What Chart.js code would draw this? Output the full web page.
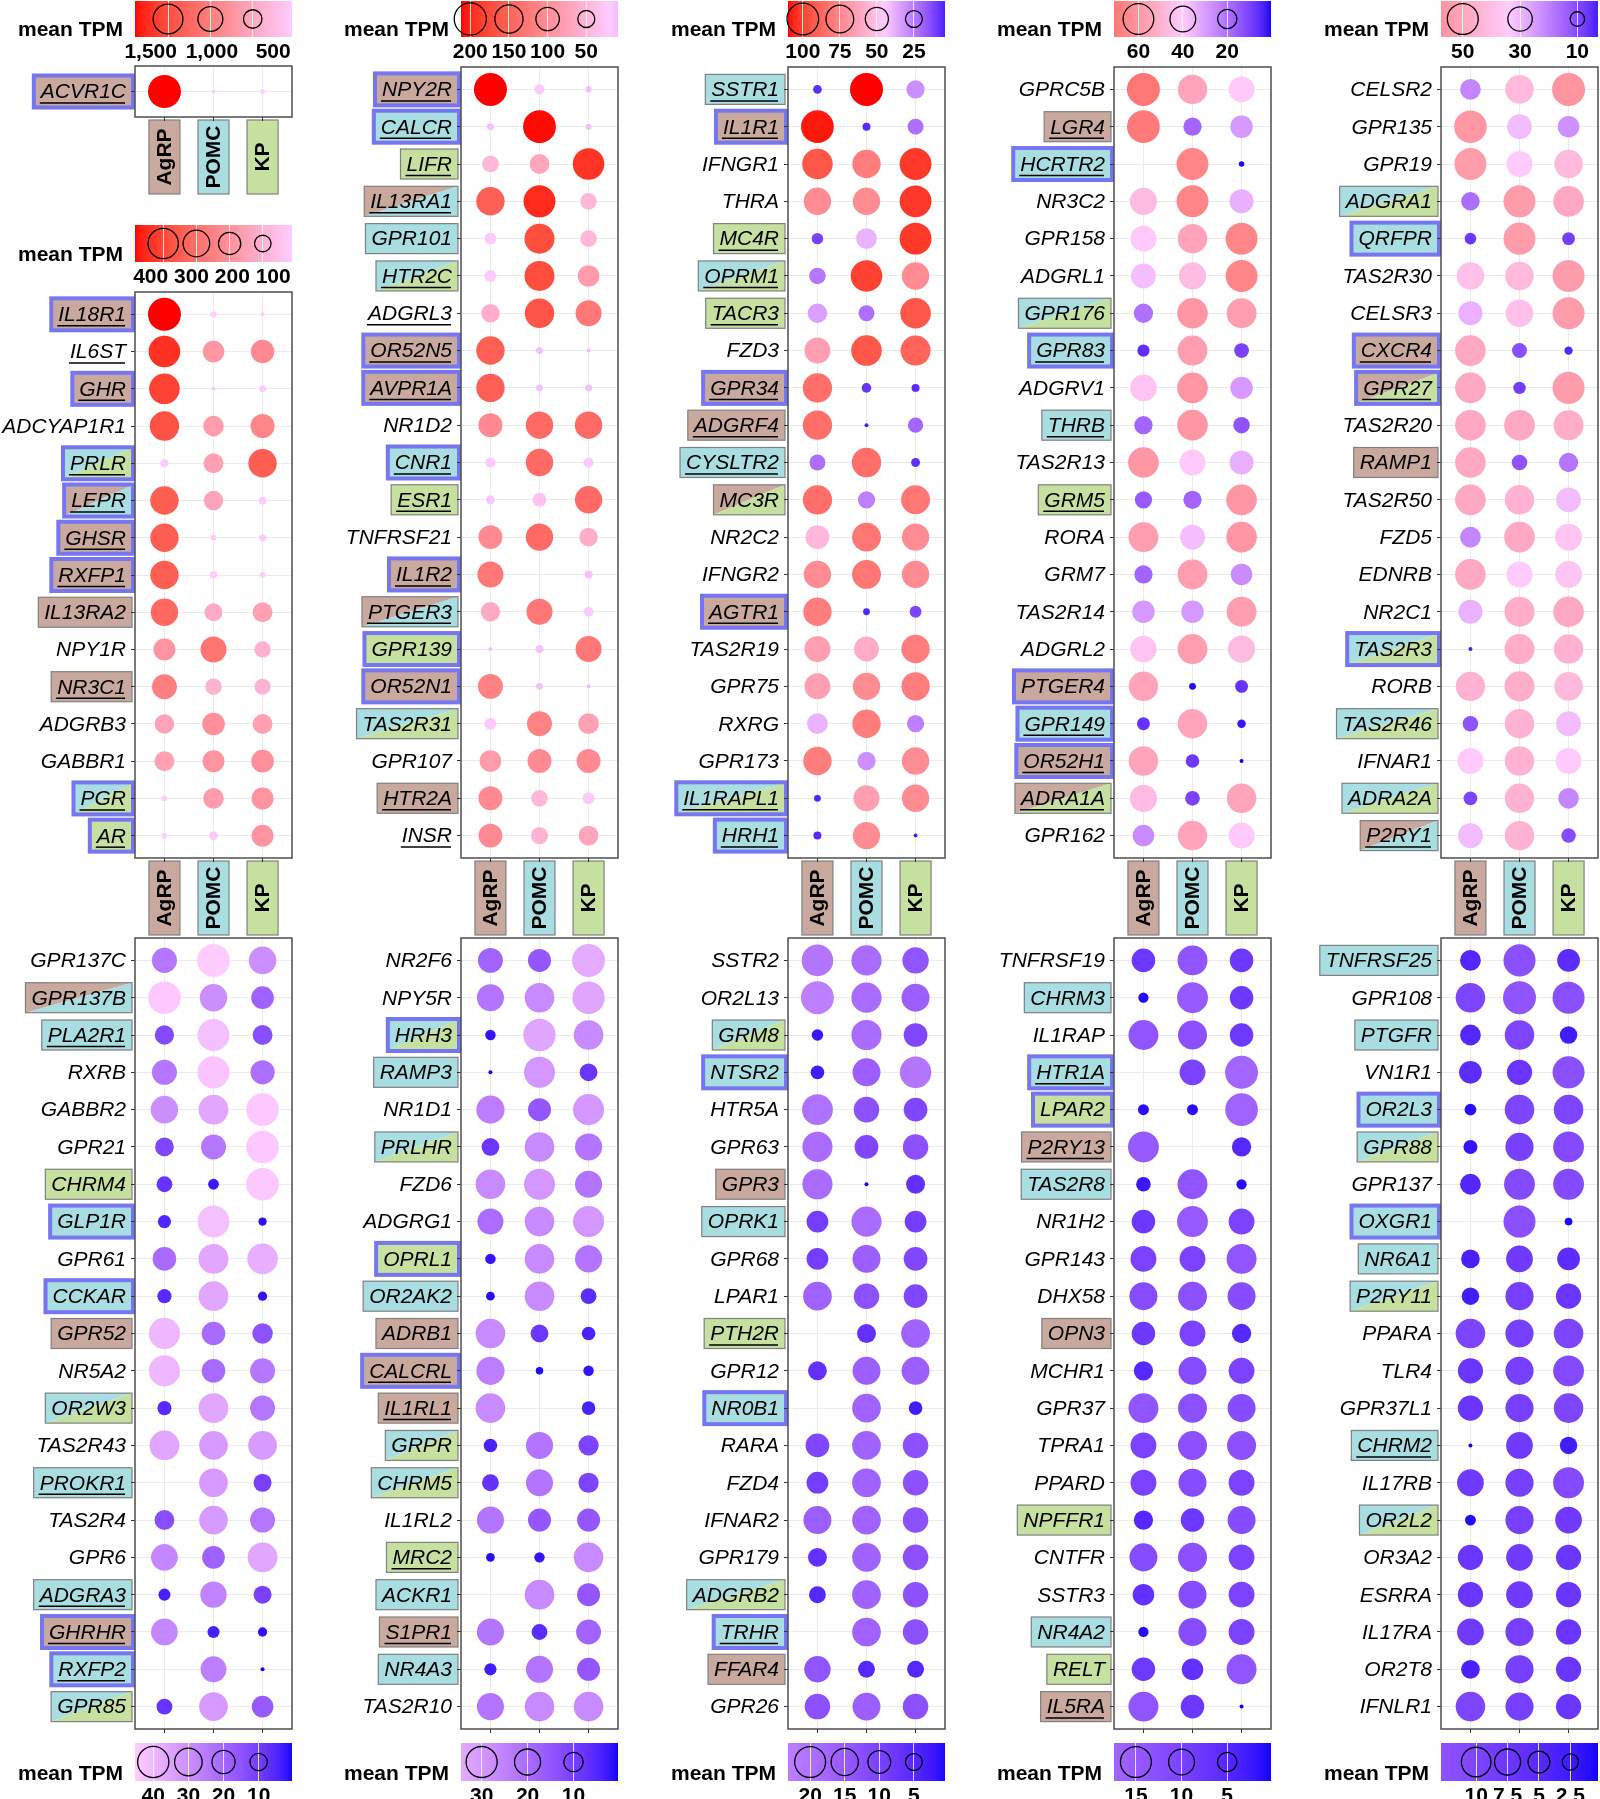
<!DOCTYPE html>
<html>
<head>
<meta charset="utf-8">
<script src="https://cdn.jsdelivr.net/npm/chart.js@4.4.1/dist/chart.umd.min.js"></script>
<style>
  body { margin: 0; background: #fff; width: 1600px; height: 1799px; position: relative; overflow: hidden; }
  canvas { position: absolute; }
</style>
</head>
<body>
<script>
// ---- data (mean TPM per cell type) ----
const cellTypes = ['AgRP', 'POMC', 'KP'];

// tags: A/P/K = highlight colour(s), * = blue frame, _ = underlined
const p0Genes = ['ACVR1C'];
const p0Agrp = [1890];
const p0Pomc = [36];
const p0Kp = [38];
const p0Tags = ['A*_'];
const p0Breaks = [1500, 1000, 500];

const a1Genes = ['IL18R1', 'IL6ST', 'GHR', 'ADCYAP1R1', 'PRLR', 'LEPR', 'GHSR', 'RXFP1', 'IL13RA2', 'NPY1R', 'NR3C1', 'ADGRB3', 'GABBR1', 'PGR', 'AR'];
const a1Agrp = [485, 440, 410, 375, 21, 347, 347, 347, 320, 194, 258, 145, 155, 14, 14];
const a1Pomc = [15, 187, 12, 168, 155, 145, 14, 18, 122, 284, 100, 207, 194, 168, 25];
const a1Kp = [12, 224, 17, 238, 347, 20, 18, 14, 155, 100, 95, 155, 207, 194, 194];
const a1Tags = ['A*_', '_', 'A*_', '', 'PK*_', 'AP*_', 'A*_', 'A*_', 'A', '', 'A_', '', '', 'PK*_', 'K*_'];
const a1Breaks = [400, 300, 200, 100];

const a2Genes = ['NPY2R', 'CALCR', 'LIFR', 'IL13RA1', 'GPR101', 'HTR2C', 'ADGRL3', 'OR52N5', 'AVPR1A', 'NR1D2', 'CNR1', 'ESR1', 'TNFRSF21', 'IL1R2', 'PTGER3', 'GPR139', 'OR52N1', 'TAS2R31', 'GPR107', 'HTR2A', 'INSR'];
const a2Agrp = [212, 11, 48, 153, 24, 24, 60, 153, 153, 105, 18, 15, 105, 126, 66, 9, 115, 24, 84, 105, 105];
const a2Pomc = [18, 210, 70, 198, 172, 172, 165, 11, 11, 141, 141, 33, 141, null, 126, 13, 11, 115, 105, 48, 52];
const a2Kp = [10, 10, 192, 48, 48, 84, 126, 9, 11, 141, 18, 141, 60, 13, 18, 126, 9, 76, 105, 24, 70];
const a2Tags = ['A*_', 'P*_', 'K_', 'AP_', 'P', 'PK_', '_', 'A*_', 'A*_', '', 'P*_', 'K_', '', 'A*_', 'AP_', 'K*', 'A*', 'PK', '', 'A_', '_'];
const a2Breaks = [200, 150, 100, 50];

const a3Genes = ['SSTR1', 'IL1R1', 'IFNGR1', 'THRA', 'MC4R', 'OPRM1', 'TACR3', 'FZD3', 'GPR34', 'ADGRF4', 'CYSLTR2', 'MC3R', 'NR2C2', 'IFNGR2', 'AGTR1', 'TAS2R19', 'GPR75', 'RXRG', 'GPR173', 'IL1RAPL1', 'HRH1'];
const a3Agrp = [6.7, 108, 93, 73, 11, 24, 34, 65, 85, 85, 22, 85, 54, 73, 79, 65, 65, 39, 79, 5, 6];
const a3Pomc = [110, 6, 79, 73, 39, 100, 22, 93, 8, 4, 85, 26, 82, 82, 5, 59, 73, 79, 30, 65, 73];
const a3Kp = [30, 22, 102, 102, 102, 73, 93, 89, 6, 20, 7, 82, 73, 73, 12, 79, 79, 26, 73, 73, 4];
const a3Tags = ['P_', 'A*_', '', '', 'K_', 'PK_', 'K_', '', 'A*_', 'A_', 'P_', 'AK', '', '', 'A*_', '', '', '', '', 'PK*_', 'P*_'];
const a3Breaks = [100, 75, 50, 25];

const a4Genes = ['GPRC5B', 'LGR4', 'HCRTR2', 'NR3C2', 'GPR158', 'ADGRL1', 'GPR176', 'GPR83', 'ADGRV1', 'THRB', 'TAS2R13', 'GRM5', 'RORA', 'GRM7', 'TAS2R14', 'ADGRL2', 'PTGER4', 'GPR149', 'OR52H1', 'ADRA1A', 'GPR162'];
const a4Agrp = [71, 70, null, 46, 41, 37, 20, 6, 43, 17.5, 60, 15, 57, 17.5, 29, 43, 55, 7, 55, 46, 26];
const a4Pomc = [55, 17.5, 66, 66, 55, 46, 60, 57, 60, 60, 41, 17.5, 37, 57, 29, 57, 1, 55, 8, 10, 55];
const a4Kp = [41, 29, 0.5, 34, 66, 66, 57, 10, 29, 13.5, 34, 60, 60, 26, 57, 46, 7, 2, 0.3, 55, 41];
const a4Tags = ['', 'A_', 'P*_', '', '', '', 'PK', 'P*_', '', 'P_', '', 'K_', '', '', '', '', 'A*', 'P*_', 'A*_', 'AK_', ''];
const a4Breaks = [60, 40, 20];

const a5Genes = ['CELSR2', 'GPR135', 'GPR19', 'ADGRA1', 'QRFPR', 'TAS2R30', 'CELSR3', 'CXCR4', 'GPR27', 'TAS2R20', 'RAMP1', 'TAS2R50', 'FZD5', 'EDNRB', 'NR2C1', 'TAS2R3', 'RORB', 'TAS2R46', 'IFNAR1', 'ADRA2A', 'P2RY1'];
const a5Agrp = [21, 56, 54, 16.5, 6.6, 39, 29, 49, 49, 49, 49, 49, 21, 49, 29, 2.8, 45, 11.5, 34.5, 9, 31];
const a5Pomc = [42, 31, 34.5, 54, 54, 42, 39, 10.6, 7.5, 49, 11.5, 45, 49, 34.5, 47, 47, 47, 45, 45, 45, 45];
const a5Kp = [57.6, 23, 42, 49, 7.8, 54, 54, 4, 54, 47, 18, 31, 37, 37, 49, 45, 42, 31, 34.5, 21, 10];
const a5Tags = ['', '', '', 'PK', 'P*', '', '', 'A*_', 'AK*_', '', 'A', '', '', '', '', 'PK*', '', 'PK', '', 'PK', 'AP_'];
const a5Breaks = [50, 30, 10];

const b1Genes = ['GPR137C', 'GPR137B', 'PLA2R1', 'RXRB', 'GABBR2', 'GPR21', 'CHRM4', 'GLP1R', 'GPR61', 'CCKAR', 'GPR52', 'NR5A2', 'OR2W3', 'TAS2R43', 'PROKR1', 'TAS2R4', 'GPR6', 'ADGRA3', 'GHRHR', 'RXFP2', 'GPR85'];
const b1Agrp = [24, 44, 13, 24, 30, 12, 8, 5, 21, 6, 40, 40, 6, 36, null, 14, 28, 4, 28, null, 8];
const b1Pomc = [45.2, 30, 42, 43, 36, 24, 3, 42, 36, 36, 21, 21, 36, 33, 33, 33, 19, 27, 4, 26, 33];
const b1Kp = [30, 19, 14, 22, 44, 44, 44, 1.5, 38, 2, 15, 24, 24, 33, 11, 24, 36, 11, 2, 0.5, 17];
const b1Tags = ['', 'AP', 'P_', '', '', '', 'K', 'P*', '', 'P*', 'A', '', 'PK', '', 'P_', '', '', 'P_', 'A*_', 'P*_', 'PK'];
const b1Breaks = [40, 30, 20, 10];

const b2Genes = ['NR2F6', 'NPY5R', 'HRH3', 'RAMP3', 'NR1D1', 'PRLHR', 'FZD6', 'ADGRG1', 'OPRL1', 'OR2AK2', 'ADRB1', 'CALCRL', 'IL1RL1', 'GRPR', 'CHRM5', 'IL1RL2', 'MRC2', 'ACKR1', 'S1PR1', 'NR4A3', 'TAS2R10'];
const b2Agrp = [18, 22, 2, 0.3, 24, 8, 27, 20, 2, 1.2, 27, 24, 27, 4, 7, 22, 1.2, null, 22, 3, 22];
const b2Pomc = [15, 27, 33, 30, 15, 27, 30, 27, 27, 27, 8, 0.8, null, 22, 22, 15, 2, 27, 6, 22, 27];
const b2Kp = [34.5, 33, 27, 8, 30, 22, 22, 30, 22, 6, 4, 2, 4, 11, 11, 15, 27, 15, 18, 15, 27];
const b2Tags = ['', '', 'PK*', 'P', '', 'PK', '', '', 'K*', 'P', 'A', 'A*_', 'A_', 'PK', 'PK', '', 'K_', 'P', 'A_', 'P', ''];
const b2Breaks = [30, 20, 10];

const b3Genes = ['SSTR2', 'OR2L13', 'GRM8', 'NTSR2', 'HTR5A', 'GPR63', 'GPR3', 'OPRK1', 'GPR68', 'LPAR1', 'PTH2R', 'GPR12', 'NR0B1', 'RARA', 'FZD4', 'IFNAR2', 'GPR179', 'ADGRB2', 'TRHR', 'FFAR4', 'GPR26'];
const b3Agrp = [21, 23.2, 2, 3, 20, 19, 19, 9, 9, 17, null, 6.5, null, 11, 9, 16, 6.5, 5, null, 14, 13];
const b3Pomc = [19, 19, 19, 16, 13, 11, 0.5, 19, 16, 13, 6.5, 16, 17, 17, 17, 17, 17, 17, 17, 5, 16];
const b3Kp = [14, 16, 11, 21, 11, 13, 6.5, 9, 11, 11, 17, 16, 3, 13, 13, 13, 13, 13, 13, 5, 13];
const b3Tags = ['', '', 'PK', 'P*', '', '', 'A', 'P', '', '', 'K_', '', 'P*', '', '', '', '', 'PK', 'P*_', 'A', ''];
const b3Breaks = [20, 15, 10, 5];

const b4Genes = ['TNFRSF19', 'CHRM3', 'IL1RAP', 'HTR1A', 'LPAR2', 'P2RY13', 'TAS2R8', 'NR1H2', 'GPR143', 'DHX58', 'OPN3', 'MCHR1', 'GPR37', 'TPRA1', 'PPARD', 'NPFFR1', 'CNTFR', 'SSTR3', 'NR4A2', 'RELT', 'IL5RA'];
const b4Agrp = [8, 1, 14, null, 1.2, 15, 2.5, 8, 10, 12, 8, 5, 14, 10, 10, 5, 12, 6.5, 1, 8, 14];
const b4Pomc = [14, 15, 13, 10, 1.2, null, 14, 15, 10, 13, 10, 12, 13, 13, 12, 8, 13, 12, 12, 6.5, 8];
const b4Kp = [8, 8, 8, 17.4, 17, 5, 1, 10, 14, 12, 5, 10, 12, 13, 10, 12, 10, 10, 10, 14, 0.2];
const b4Tags = ['', 'P', '', 'P*_', 'K*', 'A_', 'P', '', '', '', 'A', '', '', '', '', 'K', '', '', 'P', 'K', 'A_'];
const b4Breaks = [15, 10, 5];

const b5Genes = ['TNFRSF25', 'GPR108', 'PTGFR', 'VN1R1', 'OR2L3', 'GPR88', 'GPR137', 'OXGR1', 'NR6A1', 'P2RY11', 'PPARA', 'TLR4', 'GPR37L1', 'CHRM2', 'IL17RB', 'OR2L2', 'OR3A2', 'ESRRA', 'IL17RA', 'OR2T8', 'IFNLR1'];
const b5Agrp = [4.5, 10, 4.5, 5.5, 1.2, 1.8, 4.5, null, 3.5, 3, 10, 7, 7, 0.3, 8, 1, 7, 7, 8, 3.5, 10];
const b5Pomc = [12, 12.8, 10, 7, 10, 9, 11, 12, 8, 9, 9, 9, 9, 8, 9, 9, 8, 8, 9, 9, 9];
const b5Kp = [5.5, 12, 3, 12, 10, 11, 11, 0.5, 5.5, 7, 10, 11, 10, 3, 11, 8, 7, 7, 7, 7, 7];
const b5Tags = ['P', '', 'P', '', 'P*', 'PK', '', 'P*', 'P', 'PK', '', '', '', 'P_', '', 'PK', '', '', '', '', ''];
const b5Breaks = [10, 7.5, 5, 2.5];

// ---- layout / style ----
Chart.defaults.font.family = '"Liberation Sans", Arial, sans-serif';
Chart.defaults.color = '#000';

const FONT = '"Liberation Sans", Arial, sans-serif';
const boxFill = { A: '#c9a89e', P: '#a8dde1', K: '#c5e09f' };
const colLeft = [135, 461, 788, 1114, 1441];
const panelW = 157;
const labW = 135;

// ramp = [value at blue, value at pink, value at red]
const panels = [
  { genes: p0Genes, agrp: p0Agrp, pomc: p0Pomc, kp: p0Kp, tags: p0Tags, breaks: p0Breaks, col: 0, top: 66, bottom: 117, xlab: true, legTop: 1, legBot: 36, ramp: [-1000, 36, 1890] },
  { genes: a1Genes, agrp: a1Agrp, pomc: a1Pomc, kp: a1Kp, tags: a1Tags, breaks: a1Breaks, col: 0, top: 292, bottom: 858, xlab: true, legTop: 225, legBot: 261, ramp: [-200, 14, 485] },
  { genes: a2Genes, agrp: a2Agrp, pomc: a2Pomc, kp: a2Kp, tags: a2Tags, breaks: a2Breaks, col: 1, top: 67, bottom: 858, xlab: true, legTop: 1, legBot: 36, ramp: [-100, 20, 212] },
  { genes: a3Genes, agrp: a3Agrp, pomc: a3Pomc, kp: a3Kp, tags: a3Tags, breaks: a3Breaks, col: 2, top: 67, bottom: 858, xlab: true, legTop: 1, legBot: 36, ramp: [0, 45, 110] },
  { genes: a4Genes, agrp: a4Agrp, pomc: a4Pomc, kp: a4Kp, tags: a4Tags, breaks: a4Breaks, col: 3, top: 67, bottom: 858, xlab: true, legTop: 1, legBot: 36, ramp: [0, 40, 95] },
  { genes: a5Genes, agrp: a5Agrp, pomc: a5Pomc, kp: a5Kp, tags: a5Tags, breaks: a5Breaks, col: 4, top: 67, bottom: 858, xlab: true, legTop: 1, legBot: 36, ramp: [0, 34, 95] },
  { genes: b1Genes, agrp: b1Agrp, pomc: b1Pomc, kp: b1Kp, tags: b1Tags, breaks: b1Breaks, col: 0, top: 938, bottom: 1729, xlab: false, legTop: 1743, legBot: 1780, ramp: [0, 45, 110] },
  { genes: b2Genes, agrp: b2Agrp, pomc: b2Pomc, kp: b2Kp, tags: b2Tags, breaks: b2Breaks, col: 1, top: 938, bottom: 1729, xlab: false, legTop: 1743, legBot: 1780, ramp: [0, 42, 110] },
  { genes: b3Genes, agrp: b3Agrp, pomc: b3Pomc, kp: b3Kp, tags: b3Tags, breaks: b3Breaks, col: 2, top: 938, bottom: 1729, xlab: false, legTop: 1743, legBot: 1780, ramp: [0, 40, 110] },
  { genes: b4Genes, agrp: b4Agrp, pomc: b4Pomc, kp: b4Kp, tags: b4Tags, breaks: b4Breaks, col: 3, top: 938, bottom: 1729, xlab: false, legTop: 1743, legBot: 1780, ramp: [0, 40, 110] },
  { genes: b5Genes, agrp: b5Agrp, pomc: b5Pomc, kp: b5Kp, tags: b5Tags, breaks: b5Breaks, col: 4, top: 938, bottom: 1729, xlab: false, legTop: 1743, legBot: 1780, ramp: [0, 38, 110] }
];

// colour ramp blue -> pink -> red, interpolated in Lab (like ggplot)
function toLin(c) { c /= 255; return c <= 0.04045 ? c / 12.92 : Math.pow((c + 0.055) / 1.055, 2.4); }
function toSrgb(c) { c = Math.min(1, Math.max(0, c)); return Math.round(255 * (c <= 0.0031308 ? 12.92 * c : 1.055 * Math.pow(c, 1 / 2.4) - 0.055)); }
function rgb2lab(rgb) {
  const R = toLin(rgb[0]), G = toLin(rgb[1]), B = toLin(rgb[2]);
  const x = (0.4124 * R + 0.3576 * G + 0.1805 * B) / 0.95047;
  const y = 0.2126 * R + 0.7152 * G + 0.0722 * B;
  const z = (0.0193 * R + 0.1192 * G + 0.9505 * B) / 1.08883;
  const f = t => t > 0.008856 ? Math.cbrt(t) : 7.787 * t + 16 / 116;
  const fx = f(x), fy = f(y), fz = f(z);
  return [116 * fy - 16, 500 * (fx - fy), 200 * (fy - fz)];
}
function lab2rgb(lab) {
  const fy = (lab[0] + 16) / 116, fx = fy + lab[1] / 500, fz = fy - lab[2] / 200;
  const fi = t => t > 0.206893 ? t * t * t : (t - 16 / 116) / 7.787;
  const x = fi(fx) * 0.95047, y = fi(fy), z = fi(fz) * 1.08883;
  return [
    toSrgb(3.2406 * x - 1.5372 * y - 0.4986 * z),
    toSrgb(-0.9689 * x + 1.8758 * y + 0.0415 * z),
    toSrgb(0.0557 * x - 0.2040 * y + 1.0570 * z)
  ];
}
const BLUE = rgb2lab([0, 0, 255]), PINK = rgb2lab([255, 204, 255]), RED = rgb2lab([255, 0, 0]);
function mix(a, b, t) { return a.map((c, i) => c + (b[i] - c) * t); }
function tpmColor(v, ramp) {
  let c;
  if (v <= ramp[1]) c = mix(BLUE, PINK, Math.max(0, (v - ramp[0]) / (ramp[1] - ramp[0])));
  else c = mix(PINK, RED, Math.min(1, (v - ramp[1]) / (ramp[2] - ramp[1])));
  return 'rgb(' + lab2rgb(c).join(',') + ')';
}

function makeCanvas(x, y, w, h) {
  const c = document.createElement('canvas');
  c.width = w; c.height = h;
  c.style.left = x + 'px'; c.style.top = y + 'px';
  c.style.width = w + 'px'; c.style.height = h + 'px';
  document.body.appendChild(c);
  return c;
}

function drawBox(ctx, x0, y0, x1, y1, fills, framed) {
  if (fills.length === 1) {
    ctx.fillStyle = boxFill[fills[0]];
    ctx.fillRect(x0, y0, x1 - x0, y1 - y0);
  } else if (fills.length === 2) {
    ctx.fillStyle = boxFill[fills[0]];
    ctx.beginPath(); ctx.moveTo(x0, y0); ctx.lineTo(x1, y0); ctx.lineTo(x0, y1); ctx.closePath(); ctx.fill();
    ctx.fillStyle = boxFill[fills[1]];
    ctx.beginPath(); ctx.moveTo(x1, y0); ctx.lineTo(x1, y1); ctx.lineTo(x0, y1); ctx.closePath(); ctx.fill();
  }
  if (framed) {
    ctx.strokeStyle = '#7676f0'; ctx.lineWidth = 4;
    ctx.strokeRect(x0 - 1, y0 - 1, x1 - x0 + 2, y1 - y0 + 2);
  } else {
    ctx.strokeStyle = '#808080'; ctx.lineWidth = 1.2;
    ctx.strokeRect(x0, y0, x1 - x0, y1 - y0);
  }
}

function panelDeco(p) {
  return {
    id: 'panelDeco',
    beforeDraw(chart) {
      const { ctx, chartArea: a, scales: { x, y } } = chart;
      ctx.save();
      ctx.font = 'italic 21px ' + FONT;
      ctx.textAlign = 'right';
      ctx.textBaseline = 'middle';
      p.genes.forEach((g, i) => {
        const yy = y.getPixelForValue(i);
        const tr = a.left - 9;
        const w = ctx.measureText(g).width;
        const tl = tr - w;
        const tag = p.tags[i];
        const fills = tag.replace(/[^APK]/g, '').split('');
        if (fills.length) drawBox(ctx, tl - 6, yy - 15, a.left - 3, yy + 15, fills, tag.includes('*'));
        ctx.fillStyle = '#000';
        ctx.fillText(g, tr, yy + 1);
        if (tag.includes('_')) {
          ctx.strokeStyle = '#000'; ctx.lineWidth = 1.5;
          ctx.beginPath(); ctx.moveTo(tl - 1, yy + 11.5); ctx.lineTo(tr - 1, yy + 11.5); ctx.stroke();
        }
      });
      if (p.xlab) {
        cellTypes.forEach((ct, i) => {
          const xx = x.getPixelForValue(i);
          const bt = a.bottom + 3;
          ctx.fillStyle = boxFill['APK'[i]];
          ctx.fillRect(xx - 15.5, bt, 31, 74);
          ctx.strokeStyle = '#808080'; ctx.lineWidth = 1.2;
          ctx.strokeRect(xx - 15.5, bt, 31, 74);
          ctx.save();
          ctx.translate(xx + 1, bt + 37);
          ctx.rotate(-Math.PI / 2);
          ctx.font = 'bold 21px ' + FONT;
          ctx.textAlign = 'center';
          ctx.textBaseline = 'middle';
          ctx.fillStyle = '#000';
          ctx.fillText(ct, 0, 0);
          ctx.restore();
        });
      }
      ctx.restore();
    },
    afterDraw(chart) {
      const { ctx, chartArea: a } = chart;
      ctx.save();
      ctx.strokeStyle = '#4d4d4d'; ctx.lineWidth = 1.5;
      ctx.strokeRect(a.left, a.top, a.right - a.left, a.bottom - a.top);
      ctx.restore();
    }
  };
}

function legendDeco(p) {
  return {
    id: 'legendDeco',
    beforeDraw(chart) {
      const { ctx, chartArea: a, scales: { x } } = chart;
      ctx.save();
      for (let px = Math.floor(a.left); px < Math.ceil(a.right); px++) {
        ctx.fillStyle = tpmColor(x.getValueForPixel(px + 0.5), p.ramp);
        ctx.fillRect(px, a.top, 1, a.bottom - a.top);
      }
      ctx.font = 'bold 21px ' + FONT;
      ctx.textAlign = 'right';
      ctx.textBaseline = 'alphabetic';
      ctx.fillStyle = '#000';
      ctx.fillText('mean TPM', a.left - 12, a.bottom - 1);
      ctx.restore();
    }
  };
}

const measure = document.createElement('canvas').getContext('2d');
measure.font = 'bold 21px ' + FONT;

panels.forEach(p => {
  const vals = [...p.agrp, ...p.pomc, ...p.kp].filter(v => v != null);
  const lo = Math.min(...vals), hi = Math.max(...vals);
  const rad = v => 2 + 14.5 * Math.sqrt(Math.max(0, (v - lo) / (hi - lo)));
  const n = p.genes.length;

  const pts = [];
  [p.agrp, p.pomc, p.kp].forEach((arr, xi) => arr.forEach((v, yi) => {
    if (v != null) pts.push({ x: xi, y: yi, r: rad(v), v: v });
  }));

  const xh = p.xlab ? 80 : 8;
  const cv = makeCanvas(colLeft[p.col] - labW, p.top - 2, labW + panelW + 3, p.bottom - p.top + 2 + xh);
  const grid = { color: '#ebebeb', lineWidth: 1, tickColor: '#333', tickLength: 4, tickWidth: 1 };
  new Chart(cv, {
    type: 'bubble',
    data: { datasets: [{ data: pts, backgroundColor: c => tpmColor(c.raw.v, p.ramp), borderWidth: 0, clip: false }] },
    options: {
      responsive: false, animation: false, events: [],
      layout: { autoPadding: false, padding: { top: 2, right: 3, left: 0, bottom: 0 } },
      plugins: { legend: { display: false }, tooltip: { enabled: false } },
      scales: {
        x: {
          type: 'linear', min: -0.6, max: 2.6,
          afterBuildTicks: s => { s.ticks = cellTypes.map((c, i) => ({ value: i })); },
          ticks: { display: false, autoSkip: false },
          grid: grid, border: { display: false },
          afterFit: s => { s.height = xh; s.paddingLeft = 0; s.paddingRight = 0; }
        },
        y: {
          type: 'linear', reverse: true, min: -0.6, max: n - 0.4,
          afterBuildTicks: s => { s.ticks = p.genes.map((g, i) => ({ value: i })); },
          ticks: { display: false, autoSkip: false },
          grid: grid, border: { display: false },
          afterFit: s => { s.width = labW; s.paddingTop = 0; s.paddingBottom = 0; }
        }
      }
    },
    plugins: [panelDeco(p)]
  });

  // colour / size legend; labels spread out when they would collide
  const labels = p.breaks.map(b => b.toLocaleString('en-US'));
  const widths = labels.map(t => measure.measureText(t).width);
  const fracs = p.breaks.map(b => (hi - b) / (hi - lo));
  let crowded = false;
  for (let i = 0; i < fracs.length - 1; i++) {
    if ((fracs[i + 1] - fracs[i]) * panelW - (widths[i] + widths[i + 1]) / 2 < 0) crowded = true;
  }
  const k = p.breaks.length;
  const labelPos = crowded ? p.breaks.map((b, i) => 0.1 + i * 0.78 / (k - 1)) : fracs;

  const lc = makeCanvas(colLeft[p.col] - labW, p.legTop - 1, labW + panelW + 3, p.legBot - p.legTop + 1 + 30);
  new Chart(lc, {
    type: 'bubble',
    data: { datasets: [{ data: p.breaks.map(b => ({ x: b, y: 0.5, r: rad(b) })), backgroundColor: 'rgba(0,0,0,0)', borderColor: '#000', borderWidth: 1.3, clip: false }] },
    options: {
      responsive: false, animation: false, events: [],
      layout: { autoPadding: false, padding: { top: 1, right: 3, left: labW, bottom: 0 } },
      plugins: { legend: { display: false }, tooltip: { enabled: false } },
      scales: {
        x: {
          type: 'linear', reverse: true, min: lo, max: hi,
          afterBuildTicks: s => { s.ticks = p.breaks.map(v => ({ value: v })); },
          ticks: { display: false },
          grid: { color: 'rgba(255,255,255,0.8)', drawTicks: false, lineWidth: 1 },
          border: { display: false },
          afterFit: s => { s.height = 0; s.paddingLeft = 0; s.paddingRight = 0; }
        },
        xl: {
          type: 'linear', position: 'bottom', min: 0, max: 1,
          afterBuildTicks: s => { s.ticks = labelPos.map(v => ({ value: v })); },
          ticks: { font: { weight: 'bold', size: 21 }, color: '#000', padding: 3, maxRotation: 0, autoSkip: false, callback: (v, i) => labels[i] },
          grid: { display: false, drawTicks: false },
          border: { display: false },
          afterFit: s => { s.height = 29; s.paddingLeft = 0; s.paddingRight = 0; }
        },
        y: { display: false, min: 0, max: 1 }
      }
    },
    plugins: [legendDeco(p)]
  });
});
</script>
</body>
</html>
